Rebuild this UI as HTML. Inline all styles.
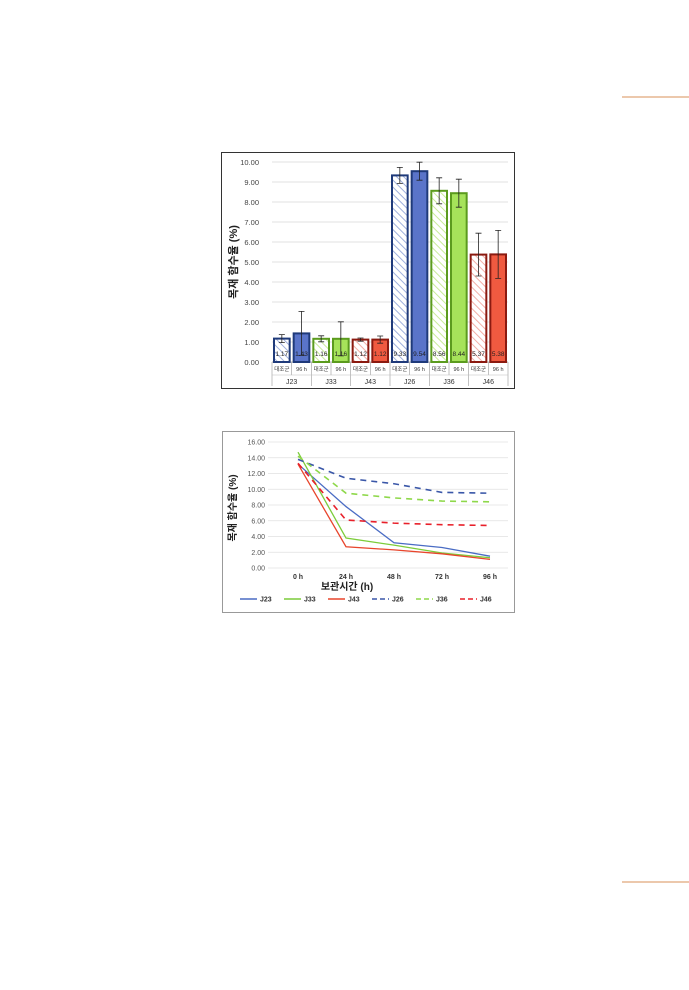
<!DOCTYPE html>
<html><head><meta charset="utf-8"><style>
body{margin:0;width:689px;height:990px;background:#fff;position:relative;overflow:hidden;font-family:"Liberation Sans","Noto Sans CJK KR",sans-serif}
svg{position:absolute;left:0;top:0}
</style></head><body>
<svg width="689" height="990">
<defs>
<pattern id="hb" width="5" height="5" patternUnits="userSpaceOnUse" patternTransform="rotate(-45)"><rect width="5" height="5" fill="#fff"/><line x1="0" y1="0" x2="0" y2="5" stroke="#9fb0dc" stroke-width="2"/></pattern>
<pattern id="hg" width="5" height="5" patternUnits="userSpaceOnUse" patternTransform="rotate(-45)"><rect width="5" height="5" fill="#fff"/><line x1="0" y1="0" x2="0" y2="5" stroke="#c9eb9a" stroke-width="2"/></pattern>
<pattern id="hr" width="5" height="5" patternUnits="userSpaceOnUse" patternTransform="rotate(-45)"><rect width="5" height="5" fill="#fff"/><line x1="0" y1="0" x2="0" y2="5" stroke="#f2b0a8" stroke-width="2"/></pattern>
</defs>
<line x1="622" y1="97" x2="689" y2="97" stroke="#d9925a" stroke-width="1"/>
<line x1="622" y1="882" x2="689" y2="882" stroke="#d9925a" stroke-width="1"/>
<g id="c1"></g>
<g id="c2"></g>
</svg>
<script>
const groups=["J23","J33","J43","J26","J36","J46"];
const subLabels=["대조군","96 h"];
const barValues=[1.17,1.43,1.16,1.16,1.12,1.12,9.33,9.54,8.56,8.44,5.37,5.38];
const barErrors=[0.2,1.1,0.15,0.85,0.08,0.18,0.4,0.45,0.65,0.7,1.07,1.2];
const barTicks=[0,1,2,3,4,5,6,7,8,9,10];
const timeLabels=["0 h","24 h","48 h","72 h","96 h"];
const seriesNames=["J23","J33","J43","J26","J36","J46"];
const sJ23=[13.2,7.8,3.2,2.6,1.5];
const sJ33=[14.7,3.8,2.9,1.9,1.3];
const sJ43=[13.2,2.7,2.3,1.8,1.1];
const sJ26=[13.8,11.4,10.7,9.6,9.5];
const sJ36=[14.2,9.5,8.9,8.5,8.4];
const sJ46=[13.3,6.1,5.7,5.5,5.4];
const lineTicks=[0,2,4,6,8,10,12,14,16];

const NS="http://www.w3.org/2000/svg";
function mk(p,t,a,txt){const e=document.createElementNS(NS,t);for(const k in a)e.setAttribute(k,a[k]);if(txt!==undefined)e.textContent=txt;p.appendChild(e);return e;}

// Bar chart
const c1=document.getElementById('c1');
const f1=mk(c1,'rect',{x:221.5,y:152.5,width:293,height:236,fill:'#fff',stroke:'#333'});


const bx0=272,bx1=508,by=v=>362-v*20;
barTicks.forEach(t=>{
 const g=mk(c1,'line',{x1:bx0,x2:bx1,y1:by(t),y2:by(t),stroke:t?'#d9d9d9':'#999','stroke-width':0.8});
 
 
 const l=mk(c1,'text',{x:259,y:by(t)+3,'font-size':7.5,fill:'#444','text-anchor':'end'},t.toFixed(2));
 
 
});
const yt=mk(c1,'text',{x:0,y:0,'font-size':11,'font-weight':'bold',fill:'#222','text-anchor':'middle',transform:'translate(237,262) rotate(-90)'},'목재 함수율 (%)');


const strokes=['#1f3a7a','#5b9b1e','#8b1a10'];
const solids=['#5a74c9','#a6e35a','#f05a40'];
const hatch=['url(#hb)','url(#hg)','url(#hr)'];
const slot=(bx1-bx0)/12;
barValues.forEach((v,i)=>{
 const gi=Math.floor(i/2),c=gi%3,x=bx0+i*slot+2,w=slot-4;
 const r=mk(c1,'rect',{x:x,y:by(v),width:w,height:v*20,fill:i%2?solids[c]:hatch[c],stroke:strokes[c],'stroke-width':2});
 
 
 const cx=x+w/2,e=barErrors[i];
 const eb=mk(c1,'path',{d:`M${cx},${by(v+e)}V${by(v-e)}M${cx-3},${by(v+e)}H${cx+3}M${cx-3},${by(v-e)}H${cx+3}`,stroke:'#222','stroke-width':0.8,fill:'none'});
 
 
 const vl=mk(c1,'text',{x:cx,y:by(0)-6,'font-size':6.5,fill:'#222','text-anchor':'middle'},v.toFixed(2));
 
 
 const sl=mk(c1,'text',{x:bx0+i*slot+slot/2,y:371,'font-size':5.5,fill:'#333','text-anchor':'middle'},subLabels[i%2]);
 
 
 mk(c1,'line',{x1:bx0+i*slot,x2:bx0+i*slot,y1:362,y2:i%2?375:386,stroke:'#999','stroke-width':0.6});
});
mk(c1,'line',{x1:bx1,x2:bx1,y1:362,y2:386,stroke:'#999','stroke-width':0.6});
mk(c1,'line',{x1:bx0,x2:bx1,y1:375,y2:375,stroke:'#bbb','stroke-width':0.6});
groups.forEach((g,gi)=>{
 const t=mk(c1,'text',{x:bx0+(gi*2+1)*slot,y:384,'font-size':7,fill:'#333','text-anchor':'middle'},g);
 
 
});

// Line chart
const c2=document.getElementById('c2');
const f2=mk(c2,'rect',{x:222.5,y:431.5,width:292,height:181,fill:'#fff',stroke:'#999'});


const lx=i=>298+i*48,ly=v=>568-v*126/16;
lineTicks.forEach(t=>{
 const g=mk(c2,'line',{x1:268,x2:508,y1:ly(t),y2:ly(t),stroke:'#e0e0e0','stroke-width':0.8});
 
 
 const l=mk(c2,'text',{x:265,y:ly(t)+2.5,'font-size':7,fill:'#555','text-anchor':'end'},t.toFixed(2));
 
 
});
timeLabels.forEach((t,i)=>{
 const l=mk(c2,'text',{x:lx(i),y:579,'font-size':7,'font-weight':'bold',fill:'#333','text-anchor':'middle'},t);
 
 
});
const xt=mk(c2,'text',{x:347,y:590,'font-size':10,'font-weight':'bold',fill:'#222','text-anchor':'middle'},'보관시간 (h)');


const yt2=mk(c2,'text',{x:0,y:0,'font-size':10,'font-weight':'bold',fill:'#222','text-anchor':'middle',transform:'translate(236,508) rotate(-90)'},'목재 함수율 (%)');


const series=[sJ23,sJ33,sJ43,sJ26,sJ36,sJ46];
const cols=['#4a6cc4','#7ccc3a','#e8452c','#3a57a8','#8ed84a','#e8202a'];
series.forEach((s,k)=>{
 const p=mk(c2,'polyline',{points:s.map((v,i)=>lx(i)+','+ly(v)).join(' '),fill:'none',stroke:cols[k],'stroke-width':k>2?1.6:1.3,'stroke-dasharray':k>2?'6,5':'none'});
 
 
 const lgx=240+k*44;
 const ll=mk(c2,'line',{x1:lgx,x2:lgx+17,y1:599,y2:599,stroke:cols[k],'stroke-width':1.4,'stroke-dasharray':k>2?'5,3':'none'});
 
 
 const lt=mk(c2,'text',{x:lgx+20,y:601.5,'font-size':7,'font-weight':'bold',fill:'#333'},seriesNames[k]);
 
 
});
</script>
</body></html>
